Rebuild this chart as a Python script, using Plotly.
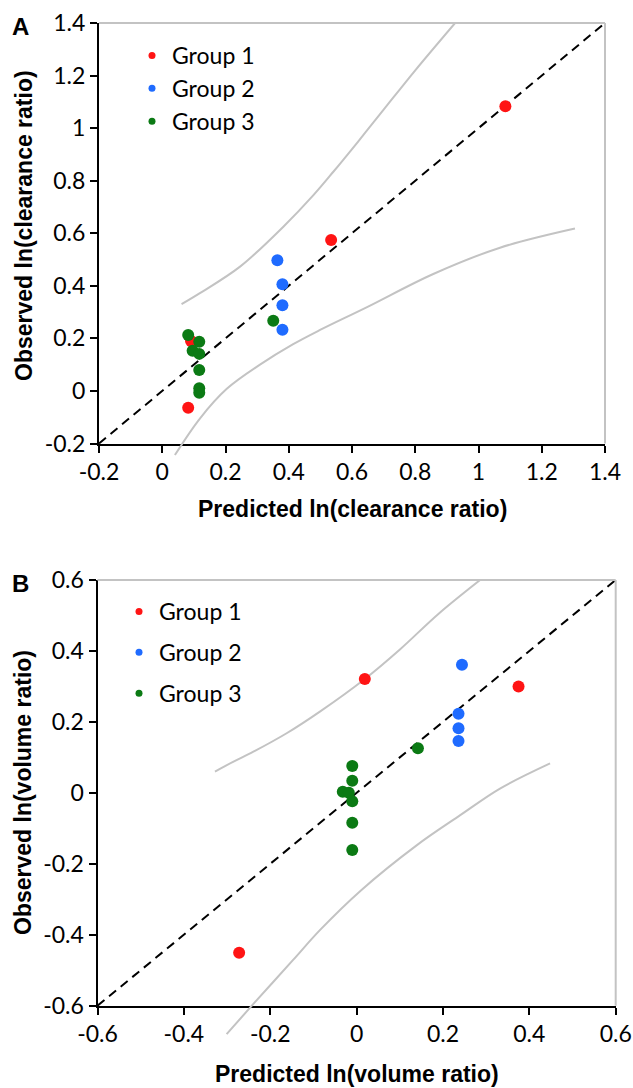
import plotly.graph_objects as go

W, H = 633, 1088

# ---------------- Panel A data (clearance) ----------------
a_range = [-0.2, 1.4]
a_ticks = [-0.2, 0, 0.2, 0.4, 0.6, 0.8, 1.0, 1.2, 1.4]
a_ticktext = ["-0.2", "0", "0.2", "0.4", "0.6", "0.8", "1", "1.2", "1.4"]
a_g1_x = [1.085, 0.534, 0.091, 0.082]
a_g1_y = [1.083, 0.574, 0.190, -0.064]
a_g2_x = [0.364, 0.380, 0.380, 0.380]
a_g2_y = [0.497, 0.406, 0.326, 0.233]
a_g3_x = [0.351, 0.082, 0.117, 0.096, 0.117, 0.117, 0.117, 0.117]
a_g3_y = [0.267, 0.213, 0.187, 0.153, 0.141, 0.080, 0.010, -0.007]
a_up_x = [0.061, 0.119, 0.246, 0.383, 0.478, 0.541, 0.620, 0.700, 0.800, 0.926]
a_up_y = [0.330, 0.372, 0.473, 0.625, 0.745, 0.834, 0.950, 1.070, 1.220, 1.400]
a_lo_x = [0.040, 0.119, 0.204, 0.309, 0.414, 0.499, 0.646, 0.857, 1.068, 1.305]
a_lo_y = [-0.244, -0.105, 0.008, 0.100, 0.178, 0.232, 0.318, 0.445, 0.545, 0.618]

# ---------------- Panel B data (volume) ----------------
b_range = [-0.6, 0.6]
b_ticks = [-0.6, -0.4, -0.2, 0, 0.2, 0.4, 0.6]
b_ticktext = ["-0.6", "-0.4", "-0.2", "0", "0.2", "0.4", "0.6"]
b_g1_x = [0.019, 0.375, -0.272]
b_g1_y = [0.321, 0.300, -0.451]
b_g2_x = [0.244, 0.236, 0.236, 0.236]
b_g2_y = [0.361, 0.223, 0.182, 0.146]
b_g3_x = [0.142, -0.010, -0.010, -0.032, -0.018, -0.010, -0.010, -0.010]
b_g3_y = [0.126, 0.076, 0.034, 0.003, 0.000, -0.024, -0.084, -0.161]
b_up_x = [-0.328, -0.285, -0.239, -0.162, -0.085, 0.019, 0.101, 0.190, 0.286]
b_up_y = [0.060, 0.088, 0.116, 0.168, 0.229, 0.321, 0.405, 0.505, 0.600]
b_lo_x = [-0.301, -0.239, -0.147, -0.085, 0.010, 0.139, 0.240, 0.332, 0.448]
b_lo_y = [-0.680, -0.595, -0.471, -0.387, -0.275, -0.148, -0.063, 0.012, 0.083]

group_names = ["Group 1", "Group 2", "Group 3"]
group_colors = ["#FF1414", "#1F6BFF", "#0B7A14"]

# ---------------- layout geometry (pixels) ----------------
A_box = (99, 605, 23, 443.5)      # left, right, top, bottom
B_box = (97.5, 615.7, 580, 1005.7)
A_ext, B_ext = 25, 40             # extra room below axis for the grey curves


def xdom(box):
    return [box[0] / W, box[1] / W]


def ydom(box, ext=0):
    return [1 - (box[3] + ext) / H, 1 - box[2] / H]


def ext_range(rng, box, ext):
    ppu = (box[3] - box[2]) / (rng[1] - rng[0])
    return [rng[0] - ext / ppu, rng[1]]


fig = go.Figure()

GREY = "#C3C3C3"


def add_panel(xa, ya, up_x, up_y, lo_x, lo_y, ref, gx, gy, legend):
    for cx, cy in [(up_x, up_y), (lo_x, lo_y)]:
        fig.add_trace(go.Scatter(x=cx, y=cy, mode="lines", line=dict(color=GREY, width=2),
                                 line_shape="spline", showlegend=False, hoverinfo="skip",
                                 xaxis=xa, yaxis=ya))
    fig.add_trace(go.Scatter(x=ref, y=ref, mode="lines",
                             line=dict(color="black", width=2, dash="9px,6px"),
                             showlegend=False, hoverinfo="skip", xaxis=xa, yaxis=ya))
    for i in range(3):
        fig.add_trace(go.Scatter(x=gx[i], y=gy[i], mode="markers",
                                 marker=dict(color=group_colors[i], size=12),
                                 showlegend=False, xaxis=xa, yaxis=ya))
    for i in range(3):
        fig.add_trace(go.Scatter(x=[None], y=[None], mode="markers", name=group_names[i],
                                 marker=dict(color=group_colors[i], size=7),
                                 legendgroup=legend + str(i), legend=legend,
                                 xaxis=xa, yaxis=ya))


# main (axis-only) subplots need a trace
fig.add_trace(go.Scatter(x=[None], y=[None], xaxis="x", yaxis="y", showlegend=False))
fig.add_trace(go.Scatter(x=[None], y=[None], xaxis="x3", yaxis="y3", showlegend=False))

add_panel("x2", "y2", a_up_x, a_up_y, a_lo_x, a_lo_y, a_range,
          [a_g1_x, a_g2_x, a_g3_x], [a_g1_y, a_g2_y, a_g3_y], "legend")
add_panel("x4", "y4", b_up_x, b_up_y, b_lo_x, b_lo_y, b_range,
          [b_g1_x, b_g2_x, b_g3_x], [b_g1_y, b_g2_y, b_g3_y], "legend2")

tickfont = dict(family="Lato", size=23, color="black")
axis_style = dict(showline=True, linecolor="black", linewidth=2, ticks="outside",
                  ticklen=7, tickwidth=2, tickcolor="black", showgrid=False,
                  zeroline=False, tickfont=tickfont, tickmode="array", automargin=False)
hidden = dict(visible=False, showgrid=False, zeroline=False, automargin=False)

legend_style = dict(xanchor="left", yanchor="top", bgcolor="rgba(0,0,0,0)",
                    borderwidth=0, font=dict(family="Lato", size=23, color="black"),
                    itemwidth=30, traceorder="grouped")

fig.update_layout(
    template="none",
    width=W, height=H, autosize=False,
    margin=dict(l=0, r=0, t=0, b=0, autoexpand=False),
    paper_bgcolor="white", plot_bgcolor="rgba(0,0,0,0)",
    xaxis=dict(domain=xdom(A_box), range=a_range, anchor="y",
               tickvals=a_ticks, ticktext=a_ticktext, **axis_style),
    yaxis=dict(domain=ydom(A_box), range=a_range, anchor="x",
               tickvals=a_ticks, ticktext=a_ticktext, **axis_style),
    xaxis2=dict(domain=xdom(A_box), range=a_range, anchor="y2", **hidden),
    yaxis2=dict(domain=ydom(A_box, A_ext), range=ext_range(a_range, A_box, A_ext),
                anchor="x2", **hidden),
    xaxis3=dict(domain=xdom(B_box), range=b_range, anchor="y3",
                tickvals=b_ticks, ticktext=b_ticktext, **axis_style),
    yaxis3=dict(domain=ydom(B_box), range=b_range, anchor="x3",
                tickvals=b_ticks, ticktext=b_ticktext, **axis_style),
    xaxis4=dict(domain=xdom(B_box), range=b_range, anchor="y4", **hidden),
    yaxis4=dict(domain=ydom(B_box, B_ext), range=ext_range(b_range, B_box, B_ext),
                anchor="x4", **hidden),
    legend=dict(x=132 / W, y=1 - 34 / H, tracegroupgap=0, **legend_style),
    legend2=dict(x=119 / W, y=1 - 590 / H, tracegroupgap=8, **legend_style),
    showlegend=True,
)

# grey top/right frame lines
for xr, yr in [("x domain", "y domain"), ("x3 domain", "y3 domain")]:
    fig.add_shape(type="line", xref=xr, yref=yr, x0=0, x1=1, y0=1, y1=1,
                  line=dict(color=GREY, width=2))
    fig.add_shape(type="line", xref=xr, yref=yr, x0=1, x1=1, y0=0, y1=1,
                  line=dict(color=GREY, width=2))

title_font = dict(family="Liberation Sans, Arial", size=23, color="black", weight="bold")
ann = [
    ("Predicted ln(clearance ratio)", 352, 509, 0),
    ("Observed ln(clearance ratio)", 24, 226, -90),
    ("Predicted ln(volume ratio)", 356.6, 1074, 0),
    ("Observed ln(volume ratio)", 23, 793, -90),
]
for text, px, py, ang in ann:
    fig.add_annotation(text=text, x=px / W, y=1 - py / H, xref="paper", yref="paper",
                       showarrow=False, textangle=ang, font=title_font,
                       xanchor="center", yanchor="middle")
for text, px, py in [("A", 20, 27), ("B", 20, 583)]:
    fig.add_annotation(text=text, x=px / W, y=1 - py / H, xref="paper", yref="paper",
                       showarrow=False, font=dict(family="Liberation Sans, Arial", size=24,
                                                  color="black", weight="bold"),
                       xanchor="center", yanchor="middle")

fig.write_html("out.html", config={"displayModeBar": False},
               post_script="document.body.style.margin='0';")
